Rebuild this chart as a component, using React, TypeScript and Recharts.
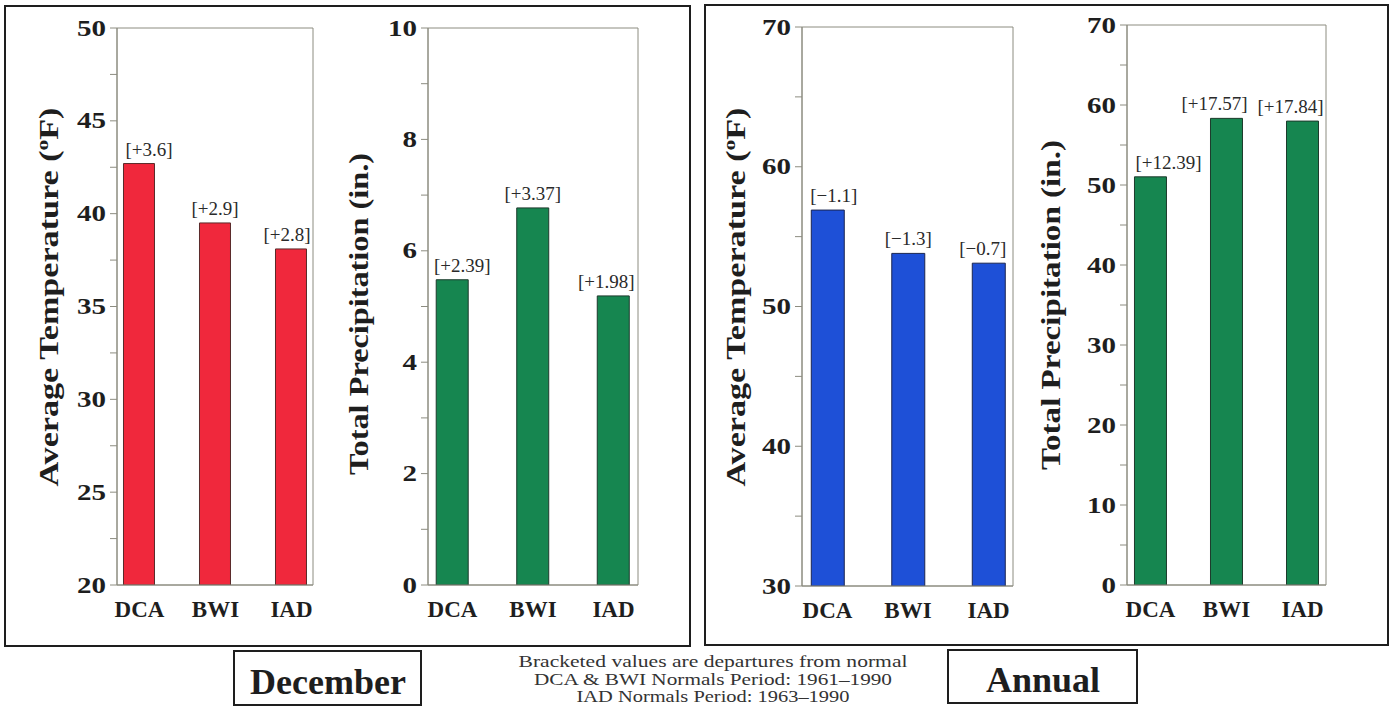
import React from 'react';
import { BarChart, Bar, XAxis, YAxis, ReferenceArea, LabelList } from 'recharts';

// ---------- data ----------
const categories = ['DCA', 'BWI', 'IAD'];

const decTemp = [42.7, 39.5, 38.1];
const decTempDep = ['+3.6', '+2.9', '+2.8'];
const decPrecip = [5.48, 6.77, 5.19];
const decPrecipDep = ['+2.39', '+3.37', '+1.98'];
const annTemp = [56.9, 53.8, 53.1];
const annTempDep = ['\u22121.1', '\u22121.3', '\u22120.7'];
const annPrecip = [51.02, 58.33, 57.99];
const annPrecipDep = ['+12.39', '+17.57', '+17.84'];

const decTempTicks = [20, 25, 30, 35, 40, 45, 50];
const decTempMinor = [22.5, 27.5, 32.5, 37.5, 42.5, 47.5];
const decPrecipTicks = [0, 2, 4, 6, 8, 10];
const decPrecipMinor = [1, 3, 5, 7, 9];
const annTempTicks = [30, 40, 50, 60, 70];
const annTempMinor = [35, 45, 55, 65];
const annPrecipTicks = [0, 10, 20, 30, 40, 50, 60, 70];
const annPrecipMinor = [5, 15, 25, 35, 45, 55, 65];

const noteLines = [
  'Bracketed values are departures from normal',
  'DCA & BWI Normals Period: 1961\u20131990',
  'IAD Normals Period: 1963\u20131990',
];

// ---------- styling ----------
const FONT = 'Liberation Serif, Times New Roman, Times, serif';
const FRAME = '#8c8c80';
const INK = '#1e1e1e';

type PanelCfg = {
  values: number[];
  deps: string[];
  majors: number[];
  minors: number[];
  yDomain: [number, number];
  xDomain: [number, number];
  left: number;
  right: number;
  top: number;
  bottom: number;
  color: string;
  stroke: string;
  barSize: number;
  title: string;
  superF: boolean;
  titleX: number;
  titleY: number;
  titleLen: number;
  labelDx: number[];
};

const panels: PanelCfg[] = [
  {
    values: decTemp, deps: decTempDep, majors: decTempTicks, minors: decTempMinor,
    yDomain: [20, 50], xDomain: [-0.296, 2.283],
    left: 117, right: 313, top: 28, bottom: 585,
    color: '#f0283c', stroke: '#5a2a2a', barSize: 31,
    title: 'Average Temperature (', superF: true, titleX: 58, titleY: 297, titleLen: 379,
    labelDx: [10, 0, -4],
  },
  {
    values: decPrecip, deps: decPrecipDep, majors: decPrecipTicks, minors: decPrecipMinor,
    yDomain: [0, 10], xDomain: [-0.304, 2.304],
    left: 428, right: 638, top: 28, bottom: 585,
    color: '#168650', stroke: '#1d3a2c', barSize: 32,
    title: 'Total Precipitation (in.)', superF: false, titleX: 368, titleY: 314, titleLen: 322,
    labelDx: [10, 0, -7],
  },
  {
    values: annTemp, deps: annTempDep, majors: annTempTicks, minors: annTempMinor,
    yDomain: [30, 70], xDomain: [-0.317, 2.304],
    left: 802, right: 1013, top: 27, bottom: 586,
    color: '#1e50d7', stroke: '#1a2550', barSize: 33,
    title: 'Average Temperature (', superF: true, titleX: 745, titleY: 297, titleLen: 379,
    labelDx: [6, 0, -6],
  },
  {
    values: annPrecip, deps: annPrecipDep, majors: annPrecipTicks, minors: annPrecipMinor,
    yDomain: [0, 70], xDomain: [-0.309, 2.309],
    left: 1127, right: 1326, top: 25, bottom: 585,
    color: '#168650', stroke: '#1d3a2c', barSize: 32,
    title: 'Total Precipitation (in.)', superF: false, titleX: 1060, titleY: 305, titleLen: 330,
    labelDx: [18, -12, -12],
  },
];

const AXIS_W = 110;
const RIGHT_M = 20;
const CH = 640;

function Panel({ cfg }: { cfg: PanelCfg }) {
  const data = categories.map((c, i) => ({ x: i, name: c, value: cfg.values[i], dep: cfg.deps[i] }));
  const plotW = cfg.right - cfg.left;
  const W = AXIS_W + plotW + RIGHT_M;
  const chartLeft = cfg.left - AXIS_W;
  const allTicks = [...cfg.majors, ...cfg.minors].sort((a, b) => a - b);

  const yTick = (p: any) => {
    const { x, y, payload } = p;
    const v = payload.value;
    const isMajor = cfg.majors.includes(v);
    const s = String(v);
    return (
      <g>
        <line x1={x - 7} x2={x} y1={y} y2={y} stroke={FRAME} strokeWidth={1} />
        {isMajor && (
          <text
            x={x - 11}
            y={y}
            dy={7.5}
            textAnchor="end"
            style={{ fontFamily: FONT }}
            fontWeight="bold"
            fontSize={23}
            fill={INK}
            textLength={s.length * 14.5}
            lengthAdjust="spacingAndGlyphs"
          >
            {s}
          </text>
        )}
      </g>
    );
  };

  const xTick = (p: any) => {
    const { x, y, payload } = p;
    return (
      <text x={x} y={y + 32} textAnchor="middle" style={{ fontFamily: FONT }} fontWeight="bold" fontSize={23} fill={INK}>
        {categories[payload.value]}
      </text>
    );
  };

  const titleLabel = () => {
    const tx = cfg.titleX - chartLeft;
    const ty = cfg.titleY;
    return (
      <text
        x={tx}
        y={ty}
        transform={`rotate(-90, ${tx}, ${ty})`}
        textAnchor="middle"
        style={{ fontFamily: FONT }}
        fontWeight="bold"
        fontSize={27}
        fill={INK}
        textLength={cfg.titleLen}
        lengthAdjust="spacingAndGlyphs"
      >
        {cfg.superF ? (
          <>
            {cfg.title}
            <tspan dy={-10} fontSize={17}>o</tspan>
            <tspan dy={10}>F)</tspan>
          </>
        ) : (
          cfg.title
        )}
      </text>
    );
  };

  const depLabel = (p: any) => {
    const { x, y, width, value, index } = p;
    return (
      <text
        x={x + width / 2 + cfg.labelDx[index]}
        y={y - 8}
        textAnchor="middle"
        style={{ fontFamily: FONT }}
        fontSize={19}
        fill="#2a2a2a"
      >
        {`[${value}]`}
      </text>
    );
  };

  return (
    <div style={{ position: 'absolute', left: chartLeft, top: 0 }}>
      <BarChart width={W} height={CH} data={data} margin={{ top: cfg.top, right: RIGHT_M, bottom: 0, left: 0 }}>
        <XAxis
          dataKey="x"
          type="number"
          domain={cfg.xDomain}
          allowDataOverflow
          ticks={[0, 1, 2]}
          interval={0}
          tickLine={false}
          tickSize={0}
          tickMargin={0}
          axisLine={{ stroke: FRAME }}
          height={CH - cfg.bottom}
          tick={xTick}
        />
        <YAxis
          type="number"
          domain={cfg.yDomain}
          allowDataOverflow
          ticks={allTicks}
          interval={0}
          width={AXIS_W}
          tickLine={false}
          tickSize={0}
          tickMargin={0}
          axisLine={{ stroke: FRAME }}
          tick={yTick}
          label={titleLabel}
        />
        <ReferenceArea
          x1={cfg.xDomain[0]}
          x2={cfg.xDomain[1]}
          y1={cfg.yDomain[0]}
          y2={cfg.yDomain[1]}
          fill="none"
          fillOpacity={0}
          stroke={FRAME}
          strokeWidth={1}
          ifOverflow="visible"
        />
        <Bar dataKey="value" fill={cfg.color} stroke={cfg.stroke} strokeWidth={1} barSize={cfg.barSize} isAnimationActive={false}>
          <LabelList dataKey="dep" content={depLabel} />
        </Bar>
      </BarChart>
    </div>
  );
}

export default function App() {
  return (
    <div style={{ position: 'absolute', left: 0, top: 0, width: 1393, height: 714, background: '#ffffff', overflow: 'hidden', fontFamily: FONT }}>
      <svg width={1393} height={714} style={{ position: 'absolute', left: 0, top: 0 }}>
        <rect x={5} y={6} width={685} height={640} fill="none" stroke={INK} strokeWidth={2} />
        <rect x={705} y={5} width={683} height={640} fill="none" stroke={INK} strokeWidth={2} />
        <rect x={234} y={651} width={187} height={54} fill="none" stroke={INK} strokeWidth={2} />
        <rect x={948} y={650} width={189} height={53} fill="none" stroke={INK} strokeWidth={2} />
        <text x={328} y={694} textAnchor="middle" style={{ fontFamily: FONT }} fontWeight="bold" fontSize={36} fill={INK}>
          December
        </text>
        <text x={1043} y={692} textAnchor="middle" style={{ fontFamily: FONT }} fontWeight="bold" fontSize={36} fill={INK}>
          Annual
        </text>
        {noteLines.map((t, i) => (
          <text
            key={i}
            x={713}
            y={667 + i * 17.5}
            textAnchor="middle"
            style={{ fontFamily: FONT }}
            fontSize={17}
            fill="#333"
            textLength={[389, 358, 273][i]}
            lengthAdjust="spacingAndGlyphs"
          >
            {t}
          </text>
        ))}
      </svg>
      {panels.map((cfg, i) => (
        <Panel key={i} cfg={cfg} />
      ))}
    </div>
  );
}
